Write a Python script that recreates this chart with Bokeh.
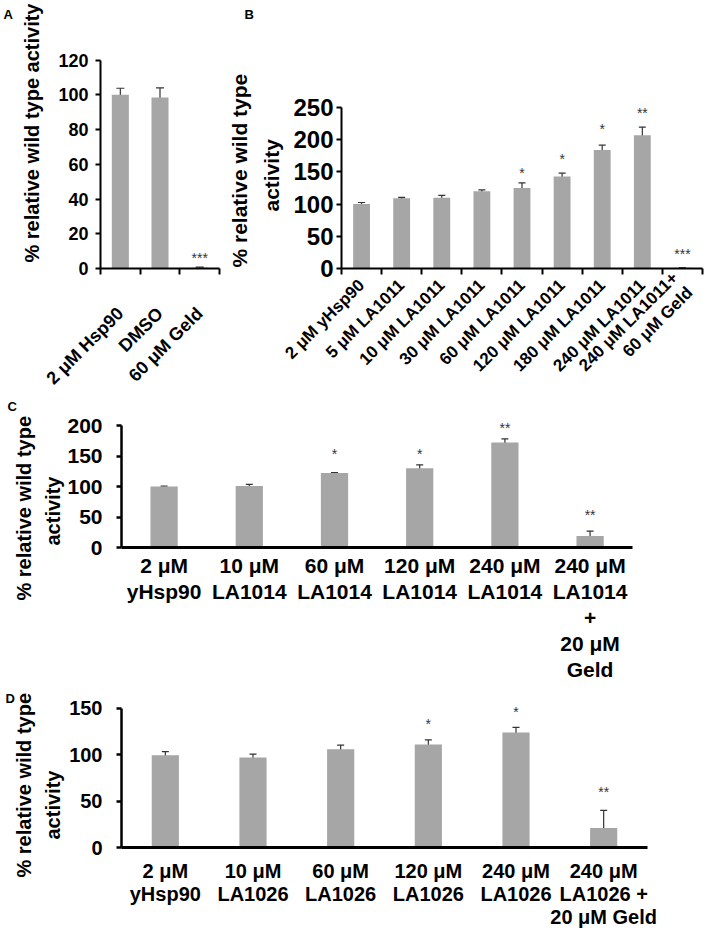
from bokeh.plotting import figure
from bokeh.models import (ColumnDataSource, Whisker, TeeHead, FixedTicker, Range1d, Title)
from bokeh.layouts import column, row
from bokeh.embed import file_html
from bokeh.resources import INLINE
from bokeh.core.properties import value

# ---------------- data ----------------
a_labels = ["2 μM Hsp90", "DMSO", "60 μM Geld"]
a_means = [100, 98.5, 0.5]
a_errs = [3.8, 5.5, 0.3]
a_stars = ["", "", "***"]
a_star_y = [0, 0, 6]
a_yticks = [0, 20, 40, 60, 80, 100, 120]

b_labels = ["2 μM yHsp90", "5 μM LA1011", "10 μM LA1011", "30 μM LA1011",
            "60 μM LA1011", "120 μM LA1011", "180 μM LA1011", "240 μM LA1011",
            "240 μM LA1011+\n60 μM Geld"]
b_means = [100, 109, 110, 120, 125, 143, 184, 207, 1]
b_errs = [2.5, 1.5, 3.5, 2, 8, 5, 7.5, 12.5, 0.4]
b_stars = ["", "", "", "", "*", "*", "*", "**", "***"]
b_star_y = [0, 0, 0, 0, 149, 170, 217, 242, 22]
b_yticks = [0, 50, 100, 150, 200, 250]

c_labels = ["2 μM\nyHsp90", "10 μM\nLA1014", "60 μM\nLA1014", "120 μM\nLA1014",
            "240 μM\nLA1014", "240 μM\nLA1014\n+\n20 μM\nGeld"]
c_means = [100, 101, 122, 130, 172, 19]
c_errs = [0.8, 2.5, 0.8, 5.5, 6, 8]
c_stars = ["", "", "*", "*", "**", "**"]
c_star_y = [0, 0, 154, 154, 196, 54]
c_yticks = [0, 50, 100, 150, 200]

d_labels = ["2 μM\nyHsp90", "10 μM\nLA1026", "60 μM\nLA1026", "120 μM\nLA1026",
            "240 μM\nLA1026", "240 μM\nLA1026 +\n20 μM Geld"]
d_means = [99.5, 97, 106, 111, 124, 21]
d_errs = [4, 3.8, 4.5, 5, 5.5, 19]
d_stars = ["", "", "", "*", "*", "**"]
d_star_y = [0, 0, 0, 133, 146, 60]
d_yticks = [0, 50, 100, 150]

y_title_1 = "% relative wild type"
y_title_2 = "activity"

FONT = "Liberation Sans"
BAR = "#A6A6A6"
ERR = "#333333"


def side_title(p, side, text, fs, offset, standoff, valign="bottom"):
    t = Title(text=text, align="left", offset=offset, standoff=standoff,
              text_font=FONT, text_font_size=fs, text_font_style="bold",
              text_color="black", vertical_align=valign)
    p.add_layout(t, side)


def panel(labels, means, errs, stars, star_y, yticks, cfg):
    n = len(labels)
    xs = list(range(n))
    p = figure(width=cfg["w"], height=cfg["h"], output_backend="svg", toolbar_location=None,
               x_range=Range1d(-0.5, cfg["x_end"]), y_range=Range1d(0, cfg["y_end"]),
               min_border_left=cfg["bl"], min_border_right=cfg["br"],
               min_border_top=cfg["bt"], min_border_bottom=cfg["bb"],
               title=cfg["letter"])
    p.outline_line_color = None
    p.xgrid.visible = False
    p.ygrid.visible = False
    p.background_fill_color = "white"
    p.border_fill_color = "white"

    # panel letter above this panel
    if cfg["letter"] is not None:
        p.title.align = "left"
        p.title.offset = cfg["loff"]
        p.title.standoff = cfg["lstand"]
        p.title.text_font = FONT
        p.title.text_font_size = "13px"
        p.title.text_font_style = "bold"
        p.title.text_color = "black"

    src = ColumnDataSource(dict(
        x=xs, top=means,
        upper=[m + e for m, e in zip(means, errs)],
        lower=[m - e for m, e in zip(means, errs)],
    ))
    p.vbar(x="x", top="top", width=cfg["bar_w"], source=src, fill_color=BAR, line_color=None)
    w = Whisker(base="x", upper="upper", lower="lower", source=src, dimension="height",
                line_color=ERR, line_width=1.2,
                upper_head=TeeHead(size=cfg["cap"], line_color=ERR, line_width=1.2),
                lower_head=TeeHead(size=cfg["cap"], line_color=ERR, line_width=1.2))
    p.add_layout(w)

    ssrc = ColumnDataSource(dict(x=xs, y=star_y, t=stars))
    p.text(x="x", y="y", text="t", source=ssrc, text_align="center", text_baseline="middle",
           text_font=value(FONT), text_font_size="14px", text_color=ERR)

    # y axis
    ya = p.yaxis[0]
    ya.ticker = FixedTicker(ticks=yticks)
    ya.bounds = (0, yticks[-1])
    ya.axis_line_width = cfg["ylw"]
    ya.axis_line_color = "black"
    ya.major_tick_out = 5
    ya.major_tick_in = 0
    ya.major_tick_line_width = cfg["ylw"]
    ya.minor_tick_line_color = None
    ya.major_label_text_font = FONT
    ya.major_label_text_font_style = "bold"
    ya.major_label_text_font_size = cfg["ytick_fs"]
    ya.major_label_text_color = "black"
    ya.major_label_standoff = cfg["ystand"]

    # y titles (closest to the axis first)
    for text, fs, off, st in cfg["titles"]:
        side_title(p, "left", text, fs, off, st)

    # x axis
    xa = p.xaxis[0]
    xa.ticker = FixedTicker(ticks=xs, minor_ticks=[i - 0.5 for i in range(n + 1)])
    xa.bounds = (-0.5, n - 0.5)
    xa.major_label_overrides = {i: lab for i, lab in enumerate(labels)}
    xa.axis_line_width = cfg["xlw"]
    xa.axis_line_color = "black"
    xa.major_tick_out = 0
    xa.major_tick_in = 0
    xa.major_tick_line_color = None
    xa.minor_tick_out = cfg["xtick"]
    xa.minor_tick_in = 0
    xa.minor_tick_line_width = cfg["xlw"]
    xa.minor_tick_line_color = "black" if cfg["xtick"] > 0 else None
    xa.major_label_text_font = FONT
    xa.major_label_text_font_style = "bold"
    xa.major_label_text_font_size = cfg["xfs"]
    xa.major_label_text_color = "black"
    xa.major_label_text_line_height = cfg["xlh"]
    xa.major_label_standoff = cfg["xstand"]
    if cfg["rot"]:
        xa.major_label_orientation = 0.785398

    # letter of the panel that follows, set under this panel's axis labels
    if cfg.get("next_letter"):
        text, off = cfg["next_letter"]
        side_title(p, "below", text, "13px", off, 0, valign="top")
    return p


# A and B share frame top (24) and bottom (271) because the row aligns them
cfgA = dict(w=225, h=415, bl=100, br=6, bt=24, bb=144, x_end=2.5, y_end=140.5, bar_w=0.43,
            cap=8, ylw=2, xlw=2, ytick_fs="18px", ystand=7, xtick=6, xfs="18px", xlh=1.2,
            xstand=36, rot=True,
            titles=[(y_title_1 + " " + y_title_2, "20px", 6, 26)],
            letter="A", loff=-97, lstand=6, next_letter=("C", -93))
cfgB = dict(w=481, h=415, bl=105, br=4, bt=24, bb=144, x_end=8.5, y_end=378.8, bar_w=0.42,
            cap=7, ylw=2, xlw=2, ytick_fs="24px", ystand=3, xtick=6, xfs="17px", xlh=1.1,
            xstand=8, rot=True,
            titles=[(y_title_2, "21px", 57, 15), (y_title_1, "21px", 1, 0)],
            letter="B", loff=-97, lstand=6)
# C and D share left (121) and right (647) frame edges because the column aligns them
cfgC = dict(w=706, h=272, bl=121, br=59, bt=3, bb=140, x_end=-0.5 + 526 / 85.2,
            y_end=211.5, bar_w=0.32, cap=7, ylw=2.5, xlw=3, ytick_fs="21px", ystand=14,
            xtick=0, xfs="21px", xlh=1.14, xstand=6, rot=False,
            titles=[(y_title_2, "20px", 2, 2), (y_title_1, "20px", -53, 8)],
            letter=None, loff=0, lstand=0)
cfgD = dict(w=706, h=249, bl=121, br=59, bt=17, bb=89, x_end=5.5, y_end=152.1, bar_w=0.31,
            cap=7, ylw=2.5, xlw=3, ytick_fs="20px", ystand=14, xtick=0, xfs="20px",
            xlh=1.05, xstand=12, rot=False,
            titles=[(y_title_2, "20px", 8, 5), (y_title_1, "20px", -30, 5)],
            letter="D", loff=-116, lstand=2)

pA = panel(a_labels, a_means, a_errs, a_stars, a_star_y, a_yticks, cfgA)
pB = panel(b_labels, b_means, b_errs, b_stars, b_star_y, b_yticks, cfgB)
pC = panel(c_labels, c_means, c_errs, c_stars, c_star_y, c_yticks, cfgC)
pD = panel(d_labels, d_means, d_errs, d_stars, d_star_y, d_yticks, cfgD)

layout = column(row(pA, pB), pC, pD)
open("out.html", "w").write(file_html(layout, INLINE))
